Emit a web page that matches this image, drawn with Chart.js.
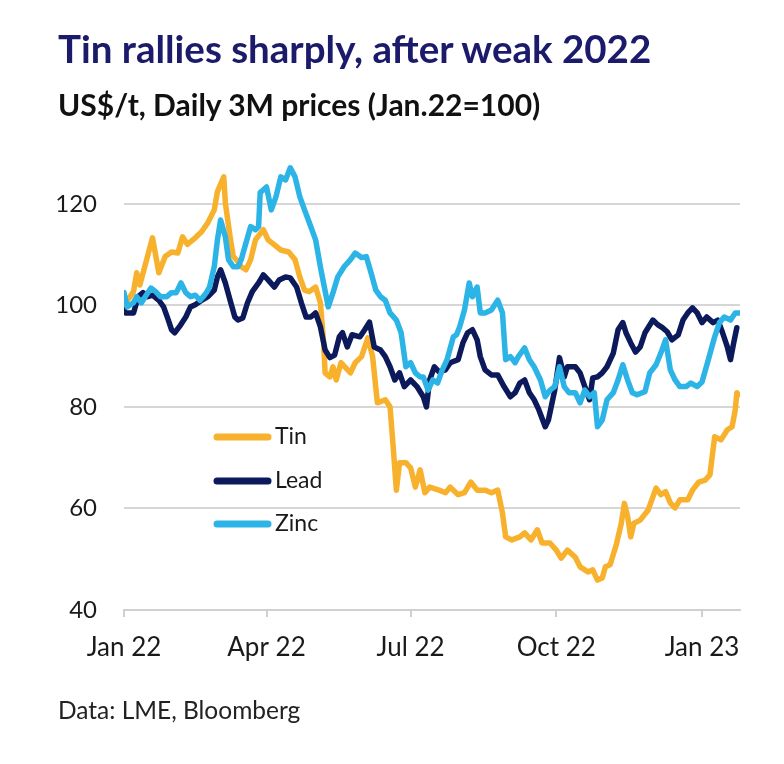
<!DOCTYPE html>
<html>
<head>
<meta charset="utf-8">
<script src="https://cdn.jsdelivr.net/npm/chart.js@4.4.0/dist/chart.umd.min.js"></script>
<style>
  body { margin: 0; background: #fff; }
  #page { position: relative; width: 784px; height: 764px; overflow: hidden; font-family: Lato, sans-serif; }
  #title { position: absolute; left: 58px; top: 29px; font-size: 38.5px; font-weight: 700; color: #1b1a6b; line-height: 1; white-space: nowrap; }
  #subtitle { position: absolute; left: 58px; top: 89px; font-size: 30px; font-weight: 700; color: #111; line-height: 1; white-space: nowrap; }
  #source { position: absolute; left: 58px; top: 698px; font-size: 24.5px; color: #222; line-height: 1; white-space: nowrap; }
  #chart { position: absolute; left: 0; top: 0; }
</style>
</head>
<body>
<div id="page">
  <canvas id="chart" width="784" height="764"></canvas>
  <div id="title">Tin rallies sharply, after weak 2022</div>
  <div id="subtitle">US$/t, Daily 3M prices (Jan.22=100)</div>
  <div id="source">Data: LME, Bloomberg</div>
</div>
<script>
// days counted from 1 Jan 2022, values indexed Jan.22 = 100
const tinDays = [0,6,8,10,18,22,26,30,34,37,40,45,49,53,57,59,63,64,67,69,71,74,77,80,83,88,91,95,99,104,108,111,114,117,121,124,126,127,130,132,134,137,143,146,150,154,157,160,165,168,170,172,174,178,181,184,187,190,193,199,203,206,211,215,219,223,228,232,236,239,241,245,250,253,257,261,264,269,273,276,280,285,288,293,296,299,302,304,307,311,314,316,318,320,322,326,331,336,339,342,345,348,351,356,359,363,367,370,373,377,381,384,386,387,388];
const tinVals = [100,102.7,106.4,104,113.3,106.4,109.6,110.5,110.3,113.5,112,113.3,114.5,116.3,118.8,122.4,125.3,120.2,113.5,109.6,109,107.6,107,109,112.9,114.9,112.9,111.9,110.9,110.5,109,105.6,103,102.7,103.6,100.5,93,86.7,85.9,87.9,85.3,88.7,86.7,88.7,89.9,93.6,89.9,80.8,81.4,80,72.1,63.6,69,69,68,64.2,67.6,63.1,64.2,63.6,63.1,64.2,62.7,63.1,65.2,63.6,63.6,63.1,63.6,59.1,54.4,53.8,54.4,55.2,53.8,55.8,53.2,53.2,51.8,50.2,51.8,50.4,48.5,47.5,47.9,45.9,46.3,48.5,48.9,53,57,61,58.5,54.4,57.1,57.7,59.7,64,62.7,63.3,61.1,60.1,61.7,61.7,63.6,65.2,65.6,66.6,74.1,73.5,75.5,76.1,79.4,82.8,82.4];

const leadDays = [0,1,6,9,12,15,18,22,25,28,30,32,35,39,42,45,49,53,57,59,61,64,67,70,72,75,78,81,85,88,91,95,98,102,105,109,112,115,118,121,124,127,130,133,136,138,141,144,149,152,155,158,162,165,168,171,174,177,181,185,189,191,193,196,199,203,206,211,214,217,220,223,225,228,232,236,240,244,247,250,253,256,259,262,266,268,272,275,278,280,285,288,291,294,296,299,302,305,309,312,315,317,320,323,326,329,334,337,340,343,346,350,353,356,359,362,365,368,372,375,378,381,383,385,387];
const leadVals = [99.1,98.5,98.5,101.7,102.5,101.7,102,101,99.7,97.1,95.2,94.6,95.8,97.7,99.7,100.1,101,101.7,103,105.6,107,104.4,101,97.7,97.1,97.5,100.5,102.7,104.4,106,105,103.6,105,105.6,105.4,103.6,100.5,97.7,97.7,98.5,95.8,91.2,89.7,90.2,93.8,94.6,91.8,94.2,93.8,95.2,96.7,91.8,91.2,89.9,87.9,85.3,86.7,84,85.3,84,82,80,85.3,87.9,86.9,87.3,88.7,89.3,92.6,94.6,95.2,93.2,89.9,87.3,86.3,86.3,84,82,82.8,84.7,85.3,82.8,81.4,79.4,76.1,77.4,83.3,89.7,85.9,87.9,87.9,86.7,84,81.4,85.7,85.9,86.7,87.9,90.6,95.2,96.6,94.6,92.6,90.8,91.8,94.6,97.1,96.2,95.6,94.8,93.2,94.2,97.1,98.5,99.5,98.5,96.6,97.7,96.6,97.1,94.6,91.8,89.3,92.6,95.6];

const zincDays = [0,2,6,8,11,14,17,20,23,27,30,33,36,39,42,45,48,50,52,54,57,59,61,64,66,69,72,74,77,80,83,85,86,90,93,96,99,102,105,108,111,114,117,121,124,126,129,132,135,139,143,146,150,153,156,159,162,165,168,172,175,178,181,184,187,189,192,195,198,201,204,208,210,212,215,218,220,223,225,228,232,236,239,241,244,247,249,253,256,259,263,266,269,272,275,278,281,285,288,291,294,297,299,302,305,309,312,315,318,321,324,329,332,336,339,342,345,348,351,355,358,362,365,369,373,376,379,383,386,389];
const zincVals = [102.5,99.7,100.5,101.7,100.5,102,103.4,102.7,101.7,101.7,102.5,102.5,104.4,102.5,101.7,102,101,101.7,102.5,103.6,107.6,112.9,116.8,113.5,109,107.6,107.6,109,112.3,115.5,114.9,115.5,122.2,123.3,118.8,121.4,125.3,124.7,127.1,125.3,121.4,118.8,116.3,112.9,107.6,104.4,99.7,102.5,105.6,107.6,109,110.3,109.4,109.6,106.4,103,101.7,101,98.5,97.1,94.6,87.9,88.7,86.7,85.9,85.9,83.3,85.3,84.7,87.3,89.3,93.8,94.2,95.8,99.1,104.4,101.7,103.6,98.5,98.5,99.1,101,98.5,89.3,89.9,88.7,89.9,91.6,89.3,87.9,85.3,82,83.3,84,87.9,84,82.8,82.8,80.8,83.3,82,82.8,76.1,77.4,81.4,82.8,85.3,88.3,85.3,82.8,82.4,83,86.7,88.3,90.6,93.2,87.3,85.3,84,84,84.7,84,84.9,89.3,93.8,96.6,97.7,97.1,98.5,98.5];

const xTickDays = [0, 90, 181, 273, 365];
const xTickLabels = ['Jan 22', 'Apr 22', 'Jul 22', 'Oct 22', 'Jan 23'];
const yTickVals = [40, 60, 80, 100, 120];

const colors = { tin: '#f8b12c', lead: '#0c1a5b', zinc: '#2cb4e7' };
const xFont = { family: 'Lato', size: 26 };
const yFont = { family: 'Lato', size: 24 };

function toPoints(days, vals) {
    return days.map((d, i) => ({ x: d, y: vals[i] }));
}

// legend sits inside the plot, below the lines
const insideLegend = {
    id: 'insideLegend',
    afterDatasetsDraw(chart) {
        const ctx = chart.ctx;
        const items = [
            { label: 'Tin', color: colors.tin, y: 437 },
            { label: 'Lead', color: colors.lead, y: 481 },
            { label: 'Zinc', color: colors.zinc, y: 524 }
        ];
        ctx.save();
        ctx.lineCap = 'round';
        ctx.lineWidth = 7;
        ctx.font = '23px Lato';
        ctx.textBaseline = 'middle';
        items.forEach(it => {
            ctx.strokeStyle = it.color;
            ctx.beginPath();
            ctx.moveTo(217, it.y);
            ctx.lineTo(268, it.y);
            ctx.stroke();
            ctx.fillStyle = '#1a1a1a';
            ctx.fillText(it.label, 275, it.y);
        });
        ctx.restore();
    }
};

const line = (label, days, vals, color, order) => ({
    label,
    data: toPoints(days, vals),
    borderColor: color,
    borderWidth: 5.5,
    pointRadius: 0,
    tension: 0,
    borderJoinStyle: 'round',
    borderCapStyle: 'round',
    order
});

new Chart(document.getElementById('chart'), {
    type: 'line',
    data: {
        datasets: [
            line('Tin', tinDays, tinVals, colors.tin, 2),
            line('Lead', leadDays, leadVals, colors.lead, 1),
            line('Zinc', zincDays, zincVals, colors.zinc, 0)
        ]
    },
    options: {
        responsive: false,
        animation: false,
        devicePixelRatio: 1,
        layout: { padding: { left: 34, right: 44, top: 153, bottom: 94 } },
        plugins: { legend: { display: false }, tooltip: { enabled: false } },
        scales: {
            x: {
                type: 'linear',
                min: 0,
                max: 389,
                afterBuildTicks: s => { s.ticks = xTickDays.map(v => ({ value: v })); },
                afterFit: s => { s.height = 60; },
                ticks: {
                    autoSkip: false,
                    maxRotation: 0,
                    padding: 15,
                    color: '#1a1a1a',
                    font: xFont,
                    callback: (v, i) => xTickLabels[i]
                },
                grid: { drawOnChartArea: false, drawTicks: true, tickLength: 7, color: '#d0d0d0', lineWidth: 2 },
                border: { display: true, color: '#d0d0d0', width: 2 }
            },
            y: {
                min: 40,
                max: 130,
                afterBuildTicks: s => { s.ticks = yTickVals.map(v => ({ value: v })); },
                afterFit: s => { s.width = 90; },
                ticks: { padding: 27, color: '#1a1a1a', font: yFont },
                grid: { drawTicks: false, color: '#d6d6d6', lineWidth: 2 },
                border: { display: false }
            }
        }
    },
    plugins: [insideLegend]
});
</script>
</body>
</html>
